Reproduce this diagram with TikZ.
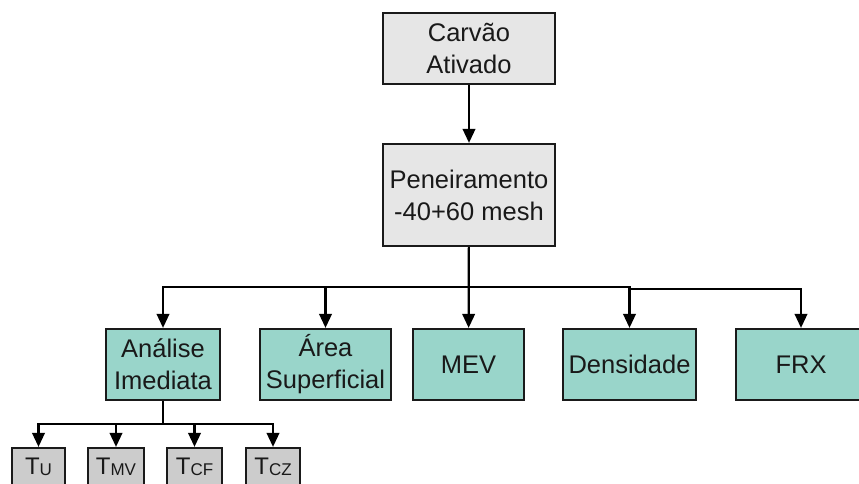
\documentclass[tikz,border=0pt]{standalone}
\usepackage{fontspec}
\setmainfont{Liberation Sans}
\usetikzlibrary{arrows.meta}
\definecolor{boxgray}{HTML}{E6E6E6}
\definecolor{smallgray}{HTML}{CCCCCC}
\definecolor{teal}{HTML}{99D5CA}
\definecolor{edge}{HTML}{1A1A1A}
\tikzset{
  base/.style={draw=edge, line width=2.2pt, inner sep=0pt, align=center,
    font=\fontsize{25.5}{32}\selectfont, text=black!90},
  topbox/.style={base, fill=boxgray},
  tealbox/.style={base, fill=teal, minimum height=71pt},
  tbox/.style={base, fill=smallgray, minimum height=38pt, font=\fontsize{24}{26}\selectfont},
  conn/.style={line width=2.2pt, draw=black},
  arr/.style={conn, -{Triangle[length=14pt,width=12.5pt]}},
}
\newcommand{\sbs}[1]{\raisebox{-1pt}{\fontsize{17}{18}\selectfont #1}}
\begin{document}
\begin{tikzpicture}[x=1pt,y=-1pt]
\useasboundingbox (0,0) rectangle (859,483);
\clip (0,0) rectangle (859,483);
\node[topbox, minimum width=172pt, minimum height=71pt] (carvao) at (469,48.5) {Carvão\\Ativado};
\node[topbox, minimum width=172pt, minimum height=102pt] (pen) at (469,195) {Peneiramento\\-40+60 mesh};
\node[tealbox, minimum width=114pt] (ana) at (163,364.5) {Análise\\Imediata};
\node[tealbox, minimum width=131pt] (area) at (325.5,364.5) {Área\\Superficial};
\node[tealbox, minimum width=111pt] (mev) at (468.5,364.5) {MEV};
\node[tealbox, minimum width=133pt] (dens) at (629.5,364.5) {Densidade};
\node[tealbox, minimum width=130pt] (frx) at (801,364.5) {FRX};
\node[tbox, minimum width=53pt] (tu) at (38.5,467) {T\sbs{U}};
\node[tbox, minimum width=56pt] (tmv) at (116,467) {T\sbs{MV}};
\node[tbox, minimum width=55pt] (tcf) at (194.5,467) {T\sbs{CF}};
\node[tbox, minimum width=54pt] (tcz) at (273,467) {T\sbs{CZ}};
% connectors
\draw[arr] (carvao) -- (pen);
\coordinate (j) at (469,287);
\coordinate (jr) at (629.5,289);
\draw[arr] (pen) -- (mev);
\draw[arr] (j) -| (ana.north);
\draw[arr] (j) -| (area.north);
\draw[arr] (j) -| (dens.north);
\draw[arr] (jr) -| (frx.north);
\coordinate (k) at (163,424);
\draw[conn] (ana.south) -- (k);
\draw[arr] (k) -| (tu.north);
\draw[arr] (k) -| (tmv.north);
\draw[arr] (k) -| (tcf.north);
\draw[arr] (k) -| (tcz.north);
\end{tikzpicture}
\end{document}
